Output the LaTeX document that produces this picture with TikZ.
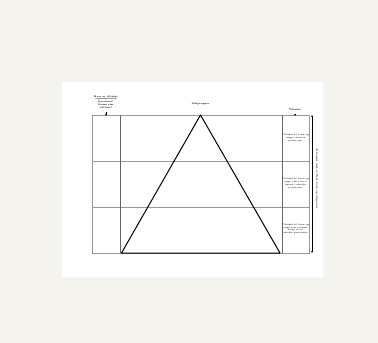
\documentclass[tikz,border=0pt]{standalone}
\usepackage{tikz}
\usetikzlibrary{positioning}
\usetikzlibrary{calc}
\usetikzlibrary{arrows.meta}
\definecolor{bgbeige}{RGB}{245,243,238}
\definecolor{gridgray}{RGB}{150,150,150}
\tikzset{
    tiny/.style={font=\fontsize{2.3}{2.8}\selectfont\bfseries, align=center, text=black},
    celltext/.style={font=\fontsize{2.1}{2.7}\selectfont\bfseries, align=center, text=black!85},
    gridline/.style={draw=gridgray, line width=0.7pt},
    pointer/.style={-{Stealth[length=2pt,width=1.6pt]}, line width=0.6pt}
}
\begin{document}
\begin{tikzpicture}[x=1pt, y=-1pt]

    \useasboundingbox (0,0) rectangle (378,343);
    \fill[bgbeige] (0,0) rectangle (378,343);

    % card with soft shadow
    \fill[black!7] (62.5,84) rectangle (324,280);
    \fill[black!4] (62,83) rectangle (324.5,278.5);
    \fill[white] (62,82) rectangle (323,277);

    % table corners
    \coordinate (TL) at (92,115);
    \coordinate (TR) at (309,115);
    \coordinate (BL) at (92,253);
    \coordinate (BR) at (309,253);

    \draw[gridline] (TL) rectangle (BR);
    \draw[gridline] (92,161) -- (309,161);
    \draw[gridline] (92,207) -- (309,207);
    \draw[gridline, draw=black!60] (120,115) -- (120,253);
    \draw[gridline, draw=black!60] (282,115) -- (282,253);

    % triangle
    \coordinate (apex) at (200.5,115);
    \coordinate (baseL) at (121.5,253);
    \coordinate (baseR) at (280,253);
    \draw[line width=1pt, line join=round] (baseL) -- (apex) -- (baseR) -- cycle;

    % headings
    \node[tiny] (owner) at (106,102) {Hvor er tiltaket\\organisatorisk\\forankret?\\Hvem eier\\tiltaket?};
    \node[tiny] (target) at (200.5,103.5) {Målgrupper};
    \node[tiny] (measure) at (295,109.5) {Tiltaket};

    \coordinate (ownerEnd) at (106,116);
    \coordinate (measureEnd) at (295,116);
    \draw[pointer] (owner.south) -- (ownerEnd);
    \draw[pointer] (measure.south) -- (measureEnd);

    % right column texts
    \node[celltext] (cellA) at (295.5,138) {Tiltaket til barn og\\unge i utsatte\\posisjoner};
    \node[celltext] (cellB) at (295.5,183.5) {Tiltaket til barn og\\unge i fare for å\\havne i utsatte\\posisjoner};
    \node[celltext] (cellC) at (295.5,229) {Tiltaket til barn og\\unge som trenger\\hjelp ut av\\utsatte posisjoner};

    % vertical arrow and text
    \coordinate (arrTop) at (312,115);
    \coordinate (arrBot) at (312,253);
    \draw[{Stealth[length=2pt,width=1.6pt]}-{Stealth[length=2pt,width=1.6pt]}, line width=0.7pt] (arrTop) -- (arrBot);
    \node[tiny, rotate=-90] (scope) at (317,178.5) {Jo lenger ned, jo flere barn og unge nås};

\end{tikzpicture}
\end{document}
